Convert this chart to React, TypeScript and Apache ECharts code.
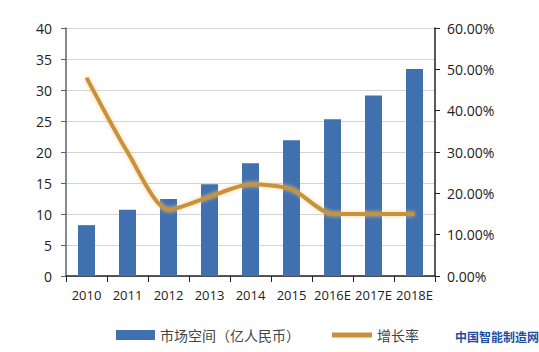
import React, { useEffect, useRef } from "react";
import * as echarts from "echarts";

const categories = ["2010", "2011", "2012", "2013", "2014", "2015", "2016E", "2017E", "2018E"];
const marketSize = [8.2, 10.7, 12.4, 14.8, 18.2, 21.9, 25.3, 29.1, 33.4];
const growthRate = [48.0, 30.0, 16.0, 19.2, 22.2, 21.0, 15.0, 15.0, 15.0];
const barName = "市场空间（亿人民币）";
const lineName = "增长率";

const font = "'Open Sans', 'Noto Sans CJK SC', sans-serif";

export default function App() {
  const ref = useRef<HTMLDivElement>(null);
  useEffect(() => {
    if (!ref.current) return;
    const chart = echarts.init(ref.current, null, { renderer: "svg" });
    chart.setOption({
      animation: false,
      backgroundColor: "#ffffff",
      textStyle: { fontFamily: font },
      grid: { left: 66, right: 104, top: 28, bottom: 76 },
      legend: [
        {
          data: [barName],
          left: 111,
          top: 323,
          itemWidth: 39,
          itemHeight: 10,
          icon: "rect",
          textStyle: { fontSize: 14, color: "#444", fontFamily: font },
        },
        {
          data: [lineName],
          left: 327,
          top: 323,
          itemWidth: 40,
          itemHeight: 5,
          icon: "rect",
          textStyle: { fontSize: 14, color: "#444", fontFamily: font },
        },
      ],
      xAxis: {
        type: "category",
        data: categories,
        axisLine: { lineStyle: { color: "#222", width: 1.5 } },
        axisTick: { show: true, alignWithLabel: false, length: 6, lineStyle: { color: "#222" } },
        axisLabel: { color: "#222", fontSize: 13, margin: 12, interval: 0 },
      },
      yAxis: [
        {
          type: "value",
          min: 0,
          max: 40,
          interval: 5,
          axisLine: { show: true, lineStyle: { color: "#5a6270", width: 1.5 } },
          axisTick: { show: true, length: 5, lineStyle: { color: "#5a6270" } },
          axisLabel: { color: "#222", fontSize: 14, margin: 14 },
          splitLine: { lineStyle: { color: "#d4d4d4" } },
        },
        {
          type: "value",
          min: 0,
          max: 60,
          interval: 10,
          position: "right",
          axisLine: { show: true, lineStyle: { color: "#222", width: 1.5 } },
          axisTick: { show: true, length: 5, lineStyle: { color: "#222" } },
          axisLabel: { color: "#222", fontSize: 14, margin: 12, formatter: (v: number) => v.toFixed(2) + "%" },
          splitLine: { show: false },
        },
      ],
      series: [
        {
          name: barName,
          type: "bar",
          data: marketSize,
          barWidth: 17,
          itemStyle: { color: "#4170AE" },
        },
        {
          name: lineName,
          type: "line",
          yAxisIndex: 1,
          data: growthRate,
          smooth: 0.25,
          showSymbol: false,
          symbol: "none",
          itemStyle: { color: "#C8913C" },
          lineStyle: {
            color: "#C8913C",
            width: 4,
            shadowColor: "rgba(250, 200, 120, 0.8)",
            shadowBlur: 4,
          },
        },
      ],
      graphic: [
        {
          type: "text",
          left: 455,
          top: 330,
          style: {
            text: "中国智能制造网",
            fill: "#1F4FA0",
            font: "bold 12px 'Noto Sans CJK SC', sans-serif",
          },
        },
      ],
    });
    return () => chart.dispose();
  }, []);
  return <div ref={ref} style={{ width: 539, height: 352, position: "absolute", left: 0, top: 0 }} />;
}
